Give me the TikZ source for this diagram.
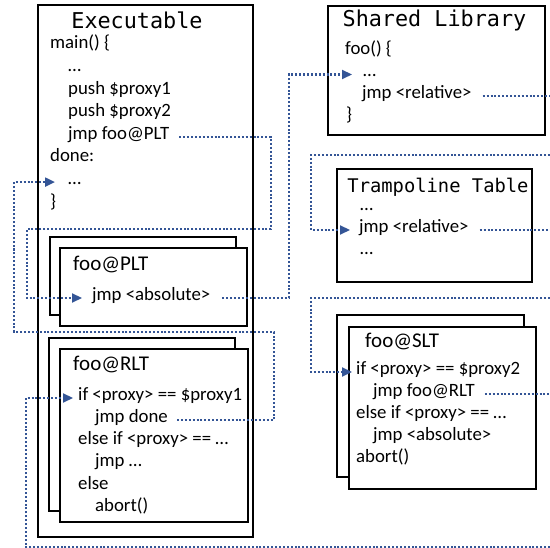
\documentclass[tikz,border=0pt]{standalone}
\usepackage{fontspec}
\setmainfont{Carlito}
\newfontfamily\titlefont{DejaVu Sans Mono}
\usetikzlibrary{arrows.meta}
\definecolor{linkblue}{RGB}{52,85,150}
\begin{document}
\begin{tikzpicture}[x=1pt,y=-1pt,
  code/.style={anchor=west,inner sep=0pt,font=\fontsize{18.8}{22}\selectfont,
    text height=0.7em,text depth=0.2em},
  head/.style={anchor=west,inner sep=0pt,font=\fontsize{21}{24}\selectfont,
    text height=0.7em,text depth=0.2em},
  bigtitle/.style={inner sep=0pt,font=\titlefont\fontsize{21.8}{24}\selectfont},
  smalltitle/.style={inner sep=0pt,font=\titlefont\fontsize{18.8}{22}\selectfont},
  frame/.style={draw=black,fill=white,line width=2.3pt,anchor=north west,
    inner sep=0pt,outer sep=0pt},
  outerframe/.style={frame,line width=2.6pt},
  link/.style={draw=linkblue,line width=2.2pt,dash pattern=on 2pt off 1.9pt},
  linkarrow/.style={link,-{Triangle[length=10pt,width=9pt]},
    shorten >=0pt},
]
\useasboundingbox (0,0) rectangle (550,548);
\fill[white] (0,0) rectangle (550,548);

% ---- boxes ----
\node[outerframe,minimum width=215pt,minimum height=532pt] (execbox) at (38,5) {};
\node[frame,minimum width=217pt,minimum height=129pt] (libbox) at (328,6) {};
\node[frame,minimum width=195pt,minimum height=113pt] (trampbox) at (337,169) {};

\node[frame,minimum width=186pt,minimum height=78pt] (pltback) at (50,237) {};
\node[frame,minimum width=187pt,minimum height=78pt] (pltfront) at (60,248) {};
\node[frame,minimum width=186pt,minimum height=173pt] (rltback) at (49,338) {};
\node[frame,minimum width=188pt,minimum height=173pt] (rltfront) at (60,349) {};
\node[frame,minimum width=187pt,minimum height=162pt] (sltback) at (337,315) {};
\node[frame,minimum width=187pt,minimum height=162pt] (sltfront) at (349,327) {};

% ---- Executable ----
\node[bigtitle] (exectitle) at (137,20) {Executable};
\node[code] (emain)  at (50,46.5)  {main() \{};
\node[code] (edots1) at (68,69.1)  {…};
\node[code] (epush1) at (68,91.7)  {push \$proxy1};
\node[code] (epush2) at (68,114.3) {push \$proxy2};
\node[code] (ejmp)   at (68,136.9) {jmp foo@PLT};
\node[code] (edone)  at (50,159.5) {done:};
\node[code] (edots2) at (68,182.1) {…};
\node[code] (eclose) at (50,204.7) {\}};

% ---- Shared Library ----
\node[bigtitle] (libtitle) at (434.5,20) {Shared Library};
\node[code] (sfoo)   at (345,52) {foo() \{};
\node[code] (sdots)  at (363,74.5) {…};
\node[code] (sjmp)   at (362,96) {jmp <relative>};
\node[code] (sclose) at (346,118) {\}};

% ---- Trampoline Table ----
\node[smalltitle] (tramptitle) at (438,187) {Trampoline Table};
\node[code] (tdots1) at (360,208) {…};
\node[code] (tjmp)   at (359,230) {jmp <relative>};
\node[code] (tdots2) at (360,252) {…};

% ---- foo@PLT ----
\node[head] (plttitle) at (73,268) {foo@PLT};
\node[code] (pjmp) at (92,298) {jmp <absolute>};

% ---- foo@RLT ----
\node[head] (rlttitle) at (73,368) {foo@RLT};
\node[code] (rif)    at (78,398)   {if <proxy> == \$proxy1};
\node[code] (rjmp)   at (95,420)   {jmp done};
\node[code] (relif)  at (78,442)   {else if <proxy> == …};
\node[code] (rjmpx)  at (95,464.5) {jmp …};
\node[code] (relse)  at (78,487)   {else};
\node[code] (rabort) at (95,509.5) {abort()};

% ---- foo@SLT ----
\node[head] (slttitle) at (365,345) {foo@SLT};
\node[code] (sif)    at (356,372) {if <proxy> == \$proxy2};
\node[code] (sjmprlt) at (373,394) {jmp foo@RLT};
\node[code] (selif)  at (356,416) {else if <proxy> == …};
\node[code] (sjmpabs) at (373,438) {jmp <absolute>};
\node[code] (sabort) at (356,460) {abort()};

% ---- connector ends at the right margin ----
\coordinate (rightedge) at (550,0);
\coordinate (trampin) at (550,155);
\coordinate (sltin) at (550,298);
\coordinate (rltin) at (550,547);

% ---- control flow ----
\draw[linkarrow] ([xshift=10pt]ejmp.east) -| (271,229) -| (27,260)
  |- ([xshift=-10pt]pjmp.west);
\draw[linkarrow] ([xshift=12pt]pjmp.east) -| (289,200)
  |- ([xshift=-11pt]sdots.west);
\draw[link] ([xshift=11pt]sjmp.east) -- (sjmp.east -| rightedge);
\draw[linkarrow] (trampin) -| (311,200) |- ([xshift=-9pt]tjmp.west);
\draw[link] ([xshift=11pt]tjmp.east) -- (tjmp.east -| rightedge);
\draw[linkarrow] (sltin) -| (311,340) |- ([xshift=-4pt]sif.west);
\draw[link] ([xshift=10pt]sjmprlt.east) -- (sjmprlt.east -| rightedge);
\draw[linkarrow] (rltin) -| (26,450) |- ([xshift=-5pt]rif.west);
\draw[linkarrow] ([xshift=9pt]rjmp.east) -| (274,332) -| (14,250)
  |- ([xshift=-13pt]edots2.west);
\end{tikzpicture}
\end{document}
